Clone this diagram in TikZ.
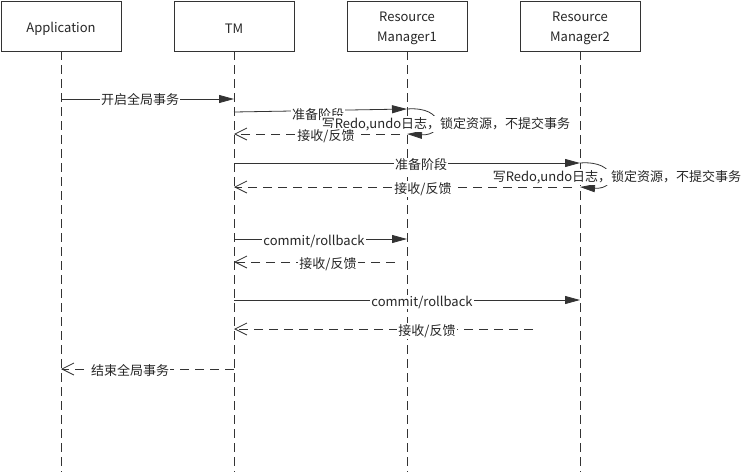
\documentclass[tikz,border=0pt]{standalone}
\usepackage{fontspec}
\setmainfont{Noto Sans CJK SC}
\usetikzlibrary{arrows.meta}
\begin{document}
\begin{tikzpicture}[x=1pt,y=-1pt,
  font=\fontsize{13pt}{17pt}\selectfont,
  actor/.style={draw=black!80, line width=0.8pt, minimum width=120pt, minimum height=50pt, inner sep=0pt},
  boxtext/.style={align=center, inner sep=0pt, text=black!85, font=\fontsize{13pt}{20pt}\selectfont},
  life/.style={draw=black!80, line width=0.8pt, dash pattern=on 9pt off 5pt},
  call/.style={draw=black!80, line width=0.8pt, -{Triangle[length=15pt,width=8pt]}},
  reply/.style={draw=black!80, line width=0.8pt, dash pattern=on 9pt off 6pt, -{Straight Barb[length=12pt,width=12pt]}},
  lbl/.style={fill=white, inner sep=1pt, text=black!85},
]
\useasboundingbox (0,0) rectangle (747,472);
% actors
\node[actor] (app) at (61,26) {};
\node[actor] (tm) at (234,26) {};
\node[actor] (rm1) at (407,26) {};
\node[actor] (rm2) at (580,26) {};
\node[boxtext] (appT) at (61,29) {Application};
\node[boxtext] (tmT) at (234,29) {TM};
\node[boxtext] (rm1T) at (407,28) {Resource\\Manager1};
\node[boxtext] (rm2T) at (580,28) {Resource\\Manager2};
% lifeline ends
\coordinate (appE) at (61,472);
\coordinate (tmE) at (234,472);
\coordinate (rm1E) at (407,472);
\coordinate (rm2E) at (580,472);
\draw[life] (app.south) -- (appE);
\draw[life] (tm.south) -- (tmE);
\draw[life] (rm1.south) -- (rm1E);
\draw[life] (rm2.south) -- (rm2E);
% message end points
\coordinate (a1) at (61,99);   \coordinate (t1) at (234,99);
\coordinate (t2) at (234,112); \coordinate (r2) at (407,109);
\coordinate (r2b) at (407,134);
\coordinate (r3) at (400,134); \coordinate (t3) at (234,134);
\coordinate (t4) at (234,163); \coordinate (s4) at (580,163);
\coordinate (s4b) at (580,187);
\coordinate (s5) at (572,187); \coordinate (t5) at (234,187);
\coordinate (t6) at (234,239); \coordinate (r6) at (407,239);
\coordinate (r7) at (395,262); \coordinate (t7) at (234,262);
\coordinate (t8) at (234,300); \coordinate (s8) at (580,300);
\coordinate (s9) at (533,329); \coordinate (t9) at (234,329);
\coordinate (t10) at (234,369); \coordinate (a10) at (61,369);
% 1
\draw[call] (a1) -- (t1);
\node[lbl] (l1) at (140,100) {开启全局事务};
% 2
\draw[call] (t2) -- (r2);
\node[lbl] (l2) at (318,115) {准备阶段};
\draw[call] (r2) .. controls (445,106) and (445,136) .. (r2b);
\node[lbl] (l2b) at (446,124) {写Redo,undo日志，锁定资源，不提交事务};
% 3
\draw[reply] (r3) -- (t3);
\node[lbl] (l3) at (326,136) {接收/反馈};
% 4
\draw[call] (t4) -- (s4);
\node[lbl] (l4) at (421,165) {准备阶段};
\draw[call] (s4) .. controls (618,160) and (618,190) .. (s4b);
\node[lbl] (l4b) at (617,177) {写Redo,undo日志，锁定资源，不提交事务};
% 5
\draw[reply] (s5) -- (t5);
\node[lbl] (l5) at (423,189) {接收/反馈};
% 6
\draw[call] (t6) -- (r6);
\node[lbl] (l6) at (314,241) {commit/rollback};
% 7
\draw[reply] (r7) -- (t7);
\node[lbl] (l7) at (328,264) {接收/反馈};
% 8
\draw[call] (t8) -- (s8);
\node[lbl] (l8) at (422,302) {commit/rollback};
% 9
\draw[reply] (s9) -- (t9);
\node[lbl] (l9) at (427,331) {接收/反馈};
% 10
\draw[reply] (t10) -- (a10);
\node[lbl] (l10) at (130,371) {结束全局事务};
\end{tikzpicture}
\end{document}
